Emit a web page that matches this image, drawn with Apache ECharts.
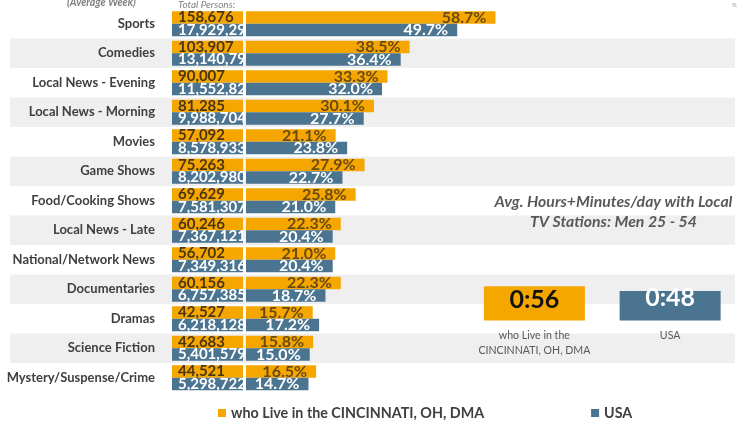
<!DOCTYPE html>
<html>
<head>
<meta charset="utf-8">
<script src="https://cdn.jsdelivr.net/npm/echarts@6/dist/echarts.min.js"></script>
<style>html,body{margin:0;padding:0;background:#fff}#c{width:738px;height:423px}</style>
</head>
<body>
<div id="c"></div>
<script>
const categories = ['Sports','Comedies','Local News - Evening','Local News - Morning','Movies','Game Shows','Food/Cooking Shows','Local News - Late','National/Network News','Documentaries','Dramas','Science Fiction','Mystery/Suspense/Crime'];
const localPct = [58.7,38.5,33.3,30.1,21.1,27.9,25.8,22.3,21.0,22.3,15.7,15.8,16.5];
const usaPct = [49.7,36.4,32.0,27.7,23.8,22.7,21.0,20.4,20.4,18.7,17.2,15.0,14.7];
const localTotals = ['158,676','103,907','90,007','81,285','57,092','75,263','69,629','60,246','56,702','60,156','42,527','42,683','44,521'];
const usaTotals = ['17,929,290','13,140,799','11,552,827','9,988,704','8,578,933','8,202,980','7,581,307','7,367,121','7,349,316','6,757,385','6,218,128','5,401,579','5,298,722'];
const seriesNames = ['who Live in the CINCINNATI, OH, DMA','USA'];
const minuteCats = ['who Live in the\nCINCINNATI, OH, DMA','USA'];
const minutes = [56,48];

const ORANGE = '#F5A700', BLUE = '#4B7491', DARK = '#404040';
const FONT = 'Lato';

const chart = echarts.init(document.getElementById('c'));
const fmtMin = v => Math.floor(v/60) + ':' + String(v%60).padStart(2,'0');

chart.setOption({
  animation: false,
  textStyle: {fontFamily: FONT},
  title: {
    text: 'Avg. Hours+Minutes/day with Local\nTV Stations: Men 25 - 54',
    left: 608.5, top: 187, textAlign: 'center',
    textStyle: {fontFamily: FONT, fontSize: 15.8, fontWeight: 'bold', fontStyle: 'italic', color: '#595959', lineHeight: 20}
  },
  graphic: [
    {type:'text', left: 67, top: -3, style:{text:'(Average Week)', font:'italic bold 10.5px Lato', fill:'#7f7f7f'}},
    {type:'text', left: 178, top: 0, style:{text:'Total Persons:', font:'italic 10px Lato', fill:'#7f7f7f'}},
    {type:'text', left: 732, top: 2, style:{text:'%', font:'6px Lato', fill:'#999'}}
  ],
  legend: {
    data: seriesNames,
    left: 213, top: 401,
    itemWidth: 8, itemHeight: 8, itemGap: 107, icon: 'rect',
    textStyle: {fontFamily: FONT, fontSize: 14.3, fontWeight: 'bold', color: DARK}
  },
  grid: [
    {left: 10, right: 3, top: 9, height: 383.5},
    {left: 246, width: 425, top: 9, height: 383.5},
    {left: 466.5, width: 272, top: 283.7, height: 36.8}
  ],
  xAxis: [
    {gridIndex: 0, type: 'value', show: false},
    {gridIndex: 1, type: 'value', min: 0, max: 100, show: false},
    {gridIndex: 2, type: 'category', data: minuteCats,
     axisLine:{show:false}, axisTick:{show:false},
     axisLabel:{margin: 8, fontSize: 10.6, color:'#595959', lineHeight: 15, fontFamily: FONT, interval: 0}}
  ],
  yAxis: [
    {gridIndex: 0, type: 'category', data: categories, inverse: true,
     axisLine:{show:false}, axisTick:{show:false}, axisLabel:{show:false},
     splitArea:{show:true, areaStyle:{color:['rgba(255,255,255,0)','#efefef']}}},
    {gridIndex: 1, type: 'category', data: categories, inverse: true,
     axisLine:{show:false}, axisTick:{show:false},
     axisLabel:{interval:0, margin: 91, fontSize: 13, fontWeight: 'bold', color: DARK, fontFamily: FONT}},
    {gridIndex: 1, type: 'category', data: categories, inverse: true, position: 'left',
     axisLine:{show:false}, axisTick:{show:false},
     axisLabel:{interval:0, margin: 74, align: 'left',
       formatter: (v, i) => '{a|' + localTotals[i] + '}\n{b|' + usaTotals[i] + '}',
       rich: {
         a: {width: 65, height: 12.5, lineHeight: 12.5, padding:[0,0,0,6], backgroundColor: ORANGE, color: '#4a3510', fontSize: 15, fontWeight: 'bold', fontFamily: FONT},
         b: {width: 65, height: 12.5, lineHeight: 12.5, padding:[0,0,0,6], backgroundColor: BLUE, color: '#fff', fontSize: 15, fontWeight: 'bold', fontFamily: FONT}
       }}},
    {gridIndex: 2, type: 'value', min: 0, max: 60, show: false}
  ],
  series: [
    {name: seriesNames[0], type: 'bar', xAxisIndex: 1, yAxisIndex: 1, data: localPct,
     barWidth: 12.5, barGap: '0%', itemStyle: {color: ORANGE},
     label: {show: true, position: 'insideRight', distance: 9, formatter: p => p.value.toFixed(1) + '%',
       fontSize: 16, fontWeight: 'bold', color: '#6b4a0e', fontFamily: FONT}},
    {name: seriesNames[1], type: 'bar', xAxisIndex: 1, yAxisIndex: 1, data: usaPct,
     barWidth: 12.5, barGap: '0%', itemStyle: {color: BLUE},
     label: {show: true, position: 'insideRight', distance: 9, formatter: p => p.value.toFixed(1) + '%',
       fontSize: 16, fontWeight: 'bold', color: '#fff', fontFamily: FONT}},
    {name: 'minutes', type: 'bar', xAxisIndex: 2, yAxisIndex: 3, barWidth: 101,
     data: minutes.map((v, i) => ({value: v,
       itemStyle: {color: i === 0 ? ORANGE : BLUE},
       label: {distance: i === 0 ? 1 : -6, color: i === 0 ? '#111' : '#fff'}})),
     label: {show: true, position: 'insideTop', formatter: p => fmtMin(p.value),
       fontSize: 25, fontWeight: 'bold', fontFamily: FONT}}
  ]
});
</script>
</body>
</html>
